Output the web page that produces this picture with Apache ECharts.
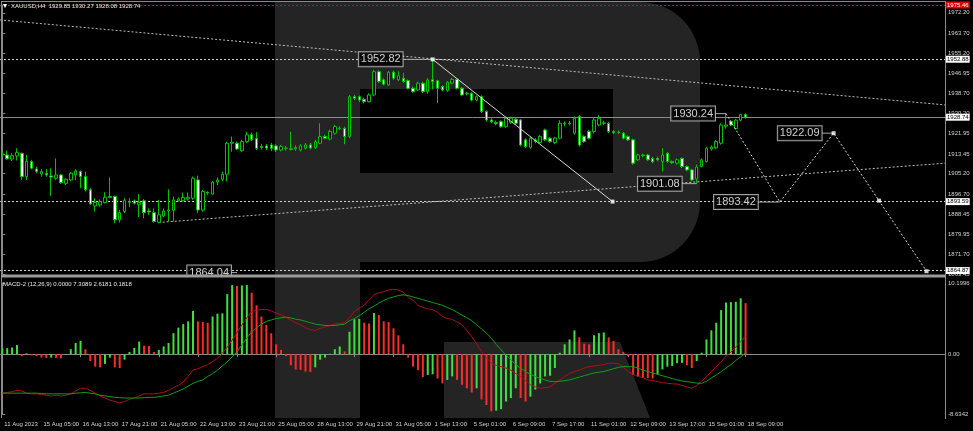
<!DOCTYPE html>
<html><head><meta charset="utf-8">
<script src="https://cdn.jsdelivr.net/npm/echarts/dist/echarts.min.js"></script>
<style>html,body{margin:0;padding:0;background:#000}#c{width:973px;height:431px}</style>
</head><body><div id="c"></div>
<script>
// ---------- DATA ----------
const timeLabels = ['11 Aug 2023','15 Aug 05:00','16 Aug 13:00','17 Aug 21:00','21 Aug 05:00','22 Aug 13:00','23 Aug 21:00','25 Aug 05:00','28 Aug 13:00','29 Aug 21:00','31 Aug 05:00','1 Sep 13:00','5 Sep 01:00','6 Sep 09:00','7 Sep 17:00','11 Sep 01:00','12 Sep 09:00','13 Sep 17:00','15 Sep 01:00','18 Sep 09:00'];
const labelStep = 8;
const priceTicks = [1972.20,1963.70,1955.20,1946.95,1938.70,1930.20,1921.95,1913.45,1905.20,1896.70,1888.45,1879.95,1871.70,1863.45];
const macdTicks = [10.1996, 0, -8.6342];
const opens = [1913.2,1913.0,1911.3,1912.6,1913.7,1904.0,1910.3,1907.2,1905.1,1905.4,
1904.3,1903.3,1904.7,1901.2,1902.6,1904.7,1906.1,1904.0,1898.5,1891.8,
1892.2,1893.2,1895.7,1895.7,1886.0,1889.5,1893.6,1893.9,1892.4,1893.9,
1889.7,1889.0,1885.0,1887.6,1889.7,1889.9,1894.0,1894.0,1894.7,1895.0,
1902.6,1890.1,1897.5,1896.7,1901.7,1902.9,1905.0,1917.9,1917.9,1914.8,
1918.6,1921.4,1919.9,1916.5,1916.8,1917.2,1916.8,1915.1,1915.8,1915.3,
1915.6,1915.1,1915.8,1917.2,1916.0,1917.9,1920.7,1919.6,1922.1,1924.0,
1924.1,1920.7,1937.3,1937.3,1936.2,1935.2,1938.0,1947.7,1944.3,1942.2,
1947.5,1944.3,1945.0,1944.0,1940.8,1940.1,1942.9,1939.4,1944.3,1943.9,
1941.5,1939.8,1942.9,1944.5,1940.8,1938.7,1938.7,1935.9,1937.3,1931.1,
1927.6,1926.5,1926.9,1924.8,1926.5,1927.9,1927.6,1919.3,1916.2,1919.3,
1918.2,1923.4,1920.0,1918.2,1920.0,1926.2,1926.0,1922.1,1929.0,1920.7,
1922.8,1922.8,1925.5,1926.2,1926.2,1922.8,1922.5,1922.1,1920.7,1919.3,
1911.0,1913.0,1913.0,1911.6,1911.6,1910.3,1913.7,1910.3,1909.6,1911.6,
1908.2,1906.8,1903.0,1908.2,1910.3,1915.5,1916.0,1917.9,1925.0,1927.0,
1924.0,1927.5,1929.85];
const highs = [1914.2,1914.8,1913.7,1915.8,1914.0,1913.0,1911.0,1908.2,1907.1,1907.1,
1907.5,1911.6,1905.1,1903.3,1906.0,1907.1,1906.6,1906.1,1899.2,1895.0,
1894.5,1897.5,1903.7,1896.1,1890.1,1895.0,1895.0,1894.5,1896.8,1894.6,
1890.8,1890.8,1894.3,1890.8,1898.7,1895.7,1895.4,1897.4,1897.4,1904.0,
1904.4,1898.5,1897.8,1902.2,1903.7,1906.0,1918.5,1920.7,1918.6,1919.3,
1922.6,1922.3,1922.5,1917.5,1917.6,1918.0,1917.5,1917.2,1916.8,1922.7,
1917.0,1917.5,1918.0,1918.0,1919.3,1926.2,1921.4,1923.5,1925.5,1925.0,
1924.8,1938.0,1938.0,1937.8,1936.9,1938.7,1948.5,1948.3,1945.0,1948.0,
1948.2,1947.9,1947.2,1944.5,1941.5,1943.5,1943.5,1945.0,1952.82,1944.3,
1942.0,1943.8,1945.1,1945.0,1941.3,1939.3,1939.2,1937.8,1937.8,1931.6,
1928.3,1927.3,1927.4,1928.9,1929.0,1928.3,1928.0,1920.0,1920.6,1920.0,
1921.4,1924.0,1920.5,1920.6,1927.5,1927.0,1927.2,1929.0,1929.6,1921.2,
1923.4,1928.3,1929.6,1927.3,1926.8,1923.4,1923.2,1922.6,1921.2,1919.8,
1913.6,1913.5,1913.5,1912.2,1912.3,1915.8,1914.2,1910.8,1911.6,1912.0,
1908.7,1907.3,1909.0,1911.6,1916.4,1917.0,1919.2,1926.2,1930.24,1927.5,
1928.0,1930.0,1930.27];
const lows = [1912.4,1911.0,1910.5,1910.7,1902.6,1902.6,1907.0,1905.4,1904.0,1904.0,
1896.0,1902.6,1901.0,1900.5,1902.0,1902.6,1899.2,1897.8,1892.2,1889.5,
1891.5,1892.8,1895.0,1884.6,1884.9,1888.8,1891.3,1892.4,1887.1,1886.7,
1888.1,1884.9,1884.6,1887.1,1885.3,1885.3,1893.6,1893.6,1894.0,1894.3,
1888.8,1889.4,1896.4,1896.4,1900.5,1902.0,1902.0,1914.4,1915.0,1914.3,
1918.0,1918.8,1915.1,1915.3,1915.0,1914.6,1914.2,1914.5,1914.8,1914.9,
1914.8,1914.5,1915.3,1915.3,1915.5,1917.5,1919.5,1919.0,1921.5,1923.4,
1917.5,1920.0,1935.9,1935.0,1934.5,1934.9,1937.5,1943.0,1942.0,1941.8,
1944.3,1943.8,1943.0,1940.3,1938.9,1939.6,1938.8,1938.5,1940.3,1934.6,
1939.5,1939.3,1942.4,1940.3,1937.5,1937.8,1935.3,1935.3,1930.5,1926.9,
1926.2,1925.4,1924.3,1924.3,1926.0,1925.5,1916.6,1915.9,1915.6,1917.9,
1917.8,1918.8,1918.0,1917.5,1919.5,1925.0,1925.3,1921.5,1916.5,1918.0,
1919.5,1922.0,1925.0,1925.4,1922.2,1921.7,1921.8,1919.5,1918.8,1908.9,
1910.4,1912.0,1910.5,1909.6,1910.4,1906.1,1909.8,1909.2,1909.0,1907.6,
1906.2,1902.0,1901.08,1907.8,1909.8,1914.8,1915.4,1917.3,1924.0,1925.0,
1923.5,1927.0,1928.08];
const closes = [1913.5,1911.4,1912.7,1914.0,1904.0,1910.3,1907.5,1906.2,1906.1,1904.7,
1903.8,1904.7,1901.5,1902.9,1905.4,1906.4,1904.0,1898.5,1892.6,1893.2,
1893.6,1895.4,1895.3,1886.0,1889.0,1894.0,1893.3,1892.9,1893.2,1889.0,
1889.3,1885.3,1888.1,1889.7,1890.1,1894.3,1894.7,1895.3,1895.4,1903.3,
1890.1,1897.8,1897.2,1901.7,1902.6,1905.0,1917.9,1918.3,1915.5,1918.6,
1921.4,1919.3,1915.8,1916.1,1915.9,1915.8,1915.1,1916.5,1915.9,1915.6,
1916.1,1916.8,1917.2,1915.9,1918.6,1920.7,1920.0,1922.8,1924.8,1924.2,
1920.7,1937.3,1936.6,1935.9,1935.2,1938.0,1947.7,1943.6,1942.5,1947.5,
1945.0,1946.0,1943.6,1940.8,1939.4,1942.9,1939.4,1944.3,1943.6,1940.8,
1940.1,1943.3,1944.5,1940.8,1938.0,1938.5,1935.9,1937.3,1931.1,1927.6,
1926.8,1926.0,1924.8,1928.3,1928.3,1926.2,1917.2,1916.5,1920.0,1918.6,
1920.7,1919.3,1918.6,1920.0,1926.2,1926.0,1926.3,1928.3,1917.2,1918.6,
1920.0,1927.6,1928.3,1926.4,1922.8,1922.3,1922.4,1920.0,1919.3,1909.6,
1913.0,1912.8,1911.0,1910.2,1911.0,1913.0,1910.3,1909.8,1911.0,1908.2,
1906.8,1902.6,1908.0,1911.0,1915.8,1916.3,1918.6,1925.5,1925.5,1925.5,
1927.5,1929.9,1928.74];
const macdHist = [0.8,0.85,0.95,1.3,-0.3,0.1,-0.2,-0.3,-0.5,-0.55,
-0.5,-0.55,-0.6,-0.1,0.7,1.6,1.9,0.7,-1.0,-1.8,
-1.9,-1.4,-0.5,-1.9,-2.0,-0.8,0.3,0.9,1.8,1.2,
1.15,0.3,0.6,1.1,1.6,3.0,3.8,4.3,4.7,6.2,
4.7,4.6,4.5,5.4,5.8,5.85,8.6,9.9,9.8,9.85,
9.9,8.8,7.0,5.4,4.2,3.0,1.4,0.6,-0.3,-1.6,
-2.2,-2.25,-2.5,-2.55,-1.9,-0.8,-0.5,0.05,0.7,1.1,
0.4,3.2,5.0,5.05,4.5,4.4,5.9,5.6,4.7,4.6,
3.7,2.7,1.4,-0.5,-1.8,-2.3,-3.3,-3.0,-2.9,-3.5,
-4.2,-3.7,-3.2,-3.7,-4.4,-4.9,-5.5,-4.9,-6.5,-7.3,
-8.2,-8.1,-7.9,-6.8,-6.3,-4.9,-6.3,-6.8,-6.1,-5.1,
-4.2,-3.2,-3.1,-2.0,0.2,1.4,2.1,3.4,2.4,1.5,
1.4,2.7,3.0,3.1,2.4,1.9,0.7,0.3,-0.3,-3.0,
-3.2,-3.4,-3.45,-3.5,-2.9,-2.2,-1.8,-1.7,-1.3,-1.25,
-1.6,-2.0,-1.0,0.2,2.1,3.4,4.5,6.3,7.4,7.45,
7.5,8.0,7.3089];
const macdMain = [-5.6,-5.5,-5.4,-5.2,-5.3,-5.6,-5.7,-5.7,-5.8,-5.9,
-6.0,-5.9,-6.0,-5.9,-5.7,-5.3,-4.9,-4.9,-5.2,-5.6,
-6.0,-6.3,-6.6,-6.8,-7.0,-6.8,-6.5,-6.3,-6.0,-5.7,
-5.7,-5.7,-5.6,-5.5,-5.2,-4.8,-4.5,-4.0,-3.2,-2.3,
-2.1,-1.8,-1.5,-1.1,-0.6,0.1,1.0,2.0,3.1,4.2,
5.2,6.1,6.3,6.4,6.4,6.2,5.9,5.6,5.3,4.9,
4.5,4.2,3.8,3.5,3.4,3.7,3.9,4.1,4.3,4.4,
4.5,5.2,6.1,6.6,7.0,7.8,8.5,8.8,8.95,9.2,
9.3,9.2,8.9,8.2,7.7,7.0,6.7,6.5,6.4,6.0,
5.4,5.1,5.0,4.6,4.2,3.4,2.5,1.5,0.35,-0.5,
-1.3,-1.6,-1.8,-2.0,-2.3,-2.8,-3.2,-3.8,-4.4,-4.7,
-4.9,-4.8,-4.7,-4.2,-3.7,-3.2,-2.8,-2.5,-2.3,-2.0,
-1.8,-1.7,-1.6,-1.5,-1.3,-1.3,-1.4,-1.9,-2.5,-2.9,
-3.2,-3.4,-3.7,-3.8,-3.95,-4.1,-4.2,-4.25,-4.3,-4.5,
-4.7,-4.9,-4.5,-3.9,-3.2,-2.5,-1.8,-1.1,-0.3,0.3,
1.0,1.8,2.6181];
const macdSignal = [-5.6,-5.6,-5.6,-5.6,-5.6,-5.6,-5.6,-5.6,-5.65,-5.7,
-5.7,-5.7,-5.7,-5.7,-5.7,-5.6,-5.55,-5.5,-5.6,-5.7,
-5.9,-6.0,-6.1,-6.2,-6.25,-6.3,-6.3,-6.3,-6.3,-6.25,
-6.2,-6.2,-6.1,-6.0,-5.9,-5.6,-5.3,-5.0,-4.6,-4.2,
-3.9,-3.7,-3.2,-2.8,-2.3,-1.7,-1.1,-0.4,0.35,1.3,
2.3,3.2,3.8,4.3,4.7,4.9,5.1,5.2,5.3,5.2,
5.0,4.9,4.7,4.5,4.3,4.2,4.1,4.1,4.1,4.2,
4.3,4.8,5.1,5.5,6.0,6.5,6.9,7.3,7.7,8.0,
8.2,8.4,8.5,8.4,8.2,8.0,7.8,7.6,7.4,7.2,
7.0,6.7,6.4,6.0,5.6,5.2,4.8,4.2,3.6,3.0,
2.3,1.4,0.6,-0.1,-0.8,-1.5,-2.0,-2.5,-2.9,-3.2,
-3.5,-3.7,-3.9,-3.95,-3.9,-3.8,-3.7,-3.5,-3.3,-3.1,
-2.9,-2.7,-2.6,-2.5,-2.3,-2.1,-1.9,-1.8,-1.8,-1.8,
-2.0,-2.3,-2.5,-2.7,-2.9,-3.1,-3.3,-3.5,-3.7,-3.85,
-3.95,-4.05,-4.15,-4.2,-3.9,-3.4,-3.0,-2.5,-2.0,-1.5,
-0.9,-0.4,0.1818];
// horizontal levels shown on the price scale
const levelRed = 1975.46;
const levelsWhite = [1952.88, 1893.59, 1864.87];
const lastPrice = 1928.74;
// drawn objects (bar index, price)
const trendDown = [[-0.47, 1969.24], [192.78, 1933.86]];
const trendUp = [[32, 1884.9], [192.78, 1909.6]];
const swingLine = [[88, 1952.82], [124.8, 1893.59]];
const forecast = [[148, 1930.24], [159, 1893.42], [170, 1922.09], [189, 1864.6]];
const dots = [[88, 1952.82], [124.8, 1893.59], [170, 1922.09], [179.3, 1894.0], [189, 1864.6]];
const notes = [
  {text: '1952.82', at: [88, 1952.82], gap: 30},
  {text: '1930.24', at: [148, 1930.24], gap: 11},
  {text: '1901.08', at: [142, 1901.08], gap: 15},
  {text: '1893.42', at: [159, 1893.42], gap: 22},
  {text: '1922.09', at: [170, 1922.09], gap: 12},
  {text: '1864.04', at: [48, 1864.04], gap: 6}
];
const titleText = 'XAUUSD,H4  1929.85 1930.27 1928.08 1928.74';
const macdTitle = 'MACD-2 (12,26,9) 0.0000 7.3089 2.6181 0.1818';

// ---------- CHART ----------
const XMIN = -0.47, XMAX = 192.78;
const PX = 945 / (XMAX - XMIN);
const FONT = 'Liberation Sans';
const AX = '#8a8a8a', TXT = '#d0d0d0', CANDLE = '#00c000', WM = '#242424';
const chart = echarts.init(document.getElementById('c'), null, {renderer: 'canvas'});

const candleData = opens.map((o, i) => [i, o, closes[i], lows[i], highs[i]]);
const histData = macdHist.map((v, i) => ({
  value: [i, v],
  itemStyle: {color: (i === 0 || v >= macdHist[i - 1]) ? '#3ee03e' : '#ff2a2a'}
}));
const tickIdx = timeLabels.map((_, k) => k * labelStep);

const dotted = (c) => ({color: c, width: 1, type: [2, 2]});
const mlLabel = (txt, bg, fg) => ({show: true, position: 'end', distance: 1, formatter: txt,
  backgroundColor: bg, color: fg, fontSize: 6, fontFamily: FONT, padding: [1, 1, 0, 1]});

const series = [
  {type: 'candlestick', xAxisIndex: 0, yAxisIndex: 0, data: candleData, encode: {x: 0, y: [1, 2, 3, 4]},
    barWidth: 3, z: 5,
    itemStyle: {color: '#000', color0: '#fff', borderColor: CANDLE, borderColor0: CANDLE, borderWidth: 1},
    markLine: {silent: true, symbol: ['none', 'none'], animation: false,
      data: [
        {yAxis: levelRed, lineStyle: dotted('#d01010'), label: mlLabel(String(levelRed), '#e00000', '#fff')},
        {yAxis: lastPrice, lineStyle: {color: '#8c8c8c', width: 1, type: 'solid'}, label: mlLabel(lastPrice.toFixed(2), '#fff', '#000')}
      ].concat(levelsWhite.map(v => ({yAxis: v, lineStyle: dotted('#cfcfcf'), label: mlLabel(v.toFixed(2), '#fff', '#000')})))
    }
  },
  {type: 'line', xAxisIndex: 0, yAxisIndex: 0, data: trendDown, symbol: 'none', lineStyle: dotted('#bdbdbd'), z: 3},
  {type: 'line', xAxisIndex: 0, yAxisIndex: 0, data: trendUp, symbol: 'none', lineStyle: dotted('#bdbdbd'), z: 3},
  {type: 'line', xAxisIndex: 0, yAxisIndex: 0, data: swingLine, symbol: 'none', lineStyle: {color: '#d8d8d8', width: 1}, z: 6},
  {type: 'line', xAxisIndex: 0, yAxisIndex: 0, data: forecast, symbol: 'none', lineStyle: dotted('#d8d8d8'), z: 6},
  {type: 'scatter', xAxisIndex: 0, yAxisIndex: 0, data: dots, symbol: 'rect', symbolSize: 4, itemStyle: {color: '#fff'}, z: 7}
];
notes.forEach(n => {
  series.push({type: 'line', xAxisIndex: 0, yAxisIndex: 0, symbol: 'none', z: 7,
    data: [[n.at[0] - n.gap / PX, n.at[1]], n.at], lineStyle: {color: '#a8a8a8', width: 1}});
  series.push({type: 'scatter', xAxisIndex: 0, yAxisIndex: 0, symbolSize: 0, z: 8,
    data: [{value: n.at, label: {show: true, position: 'left', distance: n.gap, formatter: n.text,
      fontSize: 11, fontFamily: FONT, color: '#fff', backgroundColor: '#000',
      borderColor: '#c8c8c8', borderWidth: 1, padding: [2, 2, 1, 2]}}]});
});
series.push(
  {type: 'bar', xAxisIndex: 1, yAxisIndex: 1, data: histData, barWidth: 2, z: 3},
  {type: 'line', xAxisIndex: 1, yAxisIndex: 1, data: macdMain.map((v, i) => [i, v]), symbol: 'none', lineStyle: {color: '#b01010', width: 1}, z: 4},
  {type: 'line', xAxisIndex: 1, yAxisIndex: 1, data: macdSignal.map((v, i) => [i, v]), symbol: 'none', lineStyle: {color: '#10a010', width: 1}, z: 4}
);

const yAx = (idx, min, max, ticks, fmt) => ({gridIndex: idx, type: 'value', position: 'right', min, max, scale: true,
  axisLine: {show: true, lineStyle: {color: AX}}, splitLine: {show: false},
  axisTick: {show: true, length: 3, customValues: ticks, lineStyle: {color: AX}},
  axisLabel: {customValues: ticks, formatter: fmt, color: TXT, fontSize: 6, fontFamily: FONT, margin: 3}});

const option = {
  backgroundColor: '#000',
  animation: false,
  grid: [
    {left: 0, right: 28, top: 5, height: 269},
    {left: 0, right: 28, top: 283, height: 131.3}
  ],
  xAxis: [
    {gridIndex: 0, type: 'value', min: XMIN, max: XMAX, show: false},
    {gridIndex: 1, type: 'value', min: XMIN, max: XMAX, offset: 3.7,
      axisLine: {show: true, lineStyle: {color: AX}}, splitLine: {show: false},
      axisTick: {show: true, length: 3, customValues: tickIdx, lineStyle: {color: AX}},
      axisLabel: {customValues: tickIdx, formatter: v => timeLabels[Math.round(v / labelStep)], align: 'left',
        color: TXT, fontSize: 6, fontFamily: FONT, margin: 3, padding: [0, 0, 0, 2]}}
  ],
  yAxis: [
    yAx(0, 1863.45, levelRed, priceTicks, v => v.toFixed(2)),
    yAx(1, macdTicks[2], macdTicks[0], macdTicks, v => v === 0 ? '0.00' : v.toFixed(4))
  ],
  graphic: [
    {type: 'rect', z: -100, shape: {x: 275, y: 2, width: 85, height: 416}, style: {fill: WM}},
    {type: 'rect', z: -100, shape: {x: 360, y: 2, width: 340, height: 260, r: [0, 60, 60, 0]}, style: {fill: WM}},
    {type: 'rect', z: -99, shape: {x: 360, y: 89, width: 253, height: 84}, style: {fill: '#000'}},
    {type: 'polygon', z: -100, shape: {points: [[444, 342], [620, 342], [650, 418], [444, 418]]}, style: {fill: WM}},
    {type: 'rect', zlevel: 1, shape: {x: 150, y: 277, width: 110, height: 4}, style: {fill: '#000'}},
    {type: 'rect', zlevel: 1, shape: {x: 1, y: 1, width: 1, height: 417}, style: {fill: AX}},
    {type: 'rect', zlevel: 1, shape: {x: 1, y: 1, width: 945, height: 1}, style: {fill: AX}},
    {type: 'rect', zlevel: 1, shape: {x: 945, y: 1, width: 1, height: 418}, style: {fill: AX}},
    {type: 'rect', zlevel: 1, shape: {x: 1, y: 274.5, width: 945, height: 3}, style: {fill: '#9a9a9a'}},
    {type: 'text', zlevel: 1, left: 3, top: 2, style: {text: '\u25BE', fill: '#fff', fontSize: 8, fontFamily: FONT}},
    {type: 'text', zlevel: 1, left: 11, top: 3.5, style: {text: titleText, fill: '#e8e8e8', fontSize: 6, fontFamily: FONT}},
    {type: 'text', zlevel: 1, left: 3, top: 281, style: {text: macdTitle, fill: '#e8e8e8', fontSize: 6, fontFamily: FONT}}
  ],
  series
};
chart.setOption(option);
</script>
</body></html>
